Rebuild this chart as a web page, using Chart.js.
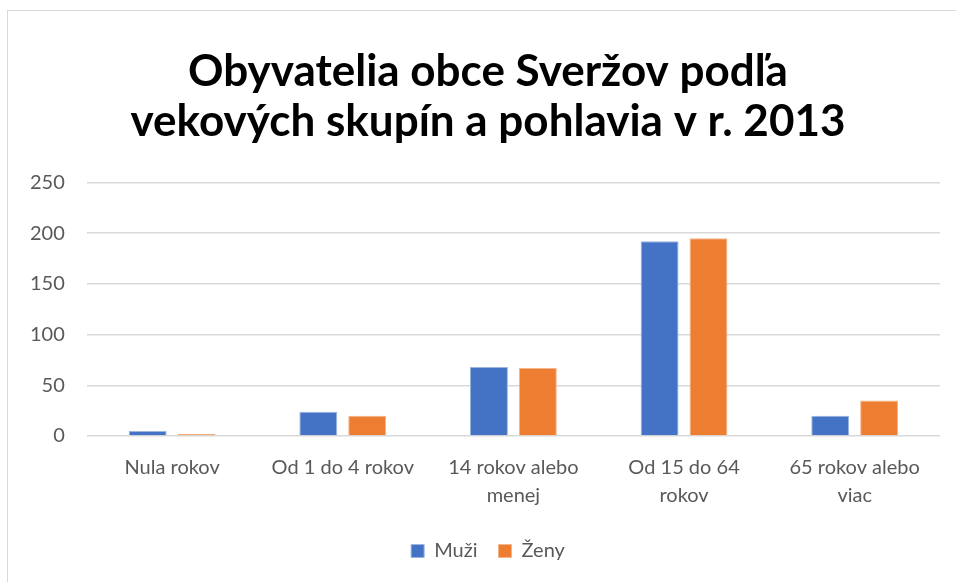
<!DOCTYPE html>
<html>
<head>
<meta charset="utf-8">
<script src="https://cdn.jsdelivr.net/npm/chart.js@4/dist/chart.umd.min.js"></script>
<style>
  body { margin: 0; background: #fff; overflow: hidden; }
  .frame { position: absolute; left: 7px; top: 10px; width: 970px; height: 590px; border: 1px solid #d9d9d9; }
  .wrap { position: absolute; left: 0; top: 0; width: 984px; height: 582px; }
</style>
</head>
<body>
<div class="frame"></div>
<div class="wrap"><canvas id="myChart" width="984" height="582"></canvas></div>
<script>
const categories = [
  "Nula rokov",
  "Od 1 do 4 rokov",
  ["14 rokov alebo", "menej"],
  ["Od 15 do 64", "rokov"],
  ["65 rokov alebo", "viac"],
];
const muzi = [5, 24, 68, 192, 20];
const zeny = [2, 20, 67, 195, 35];
const yTicks = [0, 50, 100, 150, 200, 250];

const ctx = document.getElementById("myChart").getContext("2d");

const data = {
  labels: categories,
  datasets: [
    {
      label: "Muži",
      data: muzi,
      backgroundColor: "#4472c4",
      borderColor: "#9db4e0",
      borderWidth: 1,
      categoryPercentage: 0.573,
      barPercentage: 0.776,
    },
    {
      label: "Ženy",
      data: zeny,
      backgroundColor: "#ed7d31",
      borderColor: "#f5b48a",
      borderWidth: 1,
      categoryPercentage: 0.573,
      barPercentage: 0.776,
    },
  ],
};

const config = {
  type: "bar",
  data: data,
  options: {
    responsive: false,
    animation: false,
    layout: { padding: { left: 8, right: 16, top: 0, bottom: 11 } },
    plugins: {
      title: {
        display: true,
        text: ["Obyvatelia obce Sveržov podľa", "vekových skupín a pohlavia v r. 2013"],
        color: "#000",
        font: { family: "Lato", size: 44, weight: "bold", lineHeight: 1.14 },
        padding: { top: 47, bottom: 35 },
      },
      legend: {
        position: "bottom",
        labels: {
          color: "#595959",
          font: { family: "Lato", size: 20 },
          boxWidth: 13,
          boxHeight: 13,
          padding: 21,
        },
      },
      tooltip: { enabled: false },
    },
    scales: {
      x: {
        grid: { display: false },
        border: { display: false },
        ticks: {
          color: "#595959",
          font: { family: "Lato", size: 20, lineHeight: 1.4 },
          maxRotation: 0,
          padding: 10,
        },
      },
      y: {
        min: 0,
        max: 250,
        afterBuildTicks: (axis) => {
          axis.ticks = yTicks.map((v) => ({ value: v }));
        },
        grid: { color: "#d9d9d9", lineWidth: 1.5, drawTicks: false },
        border: { display: false },
        ticks: {
          color: "#595959",
          font: { family: "Lato", size: 20 },
          padding: 22,
        },
      },
      // empty right margin, the frame is cut off on the right like in the original
      yRight: {
        position: "right",
        grid: { display: false },
        border: { display: false },
        ticks: { display: false },
        afterFit: (axis) => {
          axis.width = 28;
        },
      },
    },
  },
};

const myChart = new Chart(ctx, config);
</script>
</body>
</html>
